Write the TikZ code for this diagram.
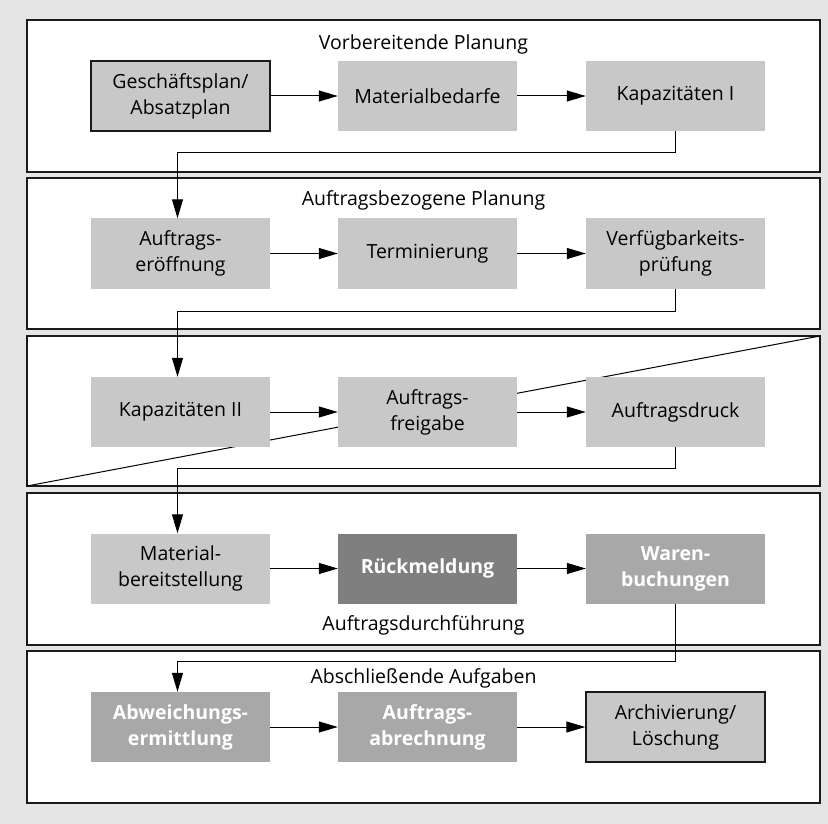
\documentclass[tikz,border=0pt]{standalone}
\usepackage{fontspec}
\setmainfont{Open Sans}
\usetikzlibrary{arrows.meta}
\definecolor{pagegray}{RGB}{228,228,228}
\definecolor{framecol}{RGB}{26,26,26}
\definecolor{boxlight}{RGB}{200,200,200}
\definecolor{boxmid}{RGB}{168,168,168}
\definecolor{boxdark}{RGB}{127,127,127}
\begin{document}
\begin{tikzpicture}[x=1pt,y=-1pt,
  panel/.style={draw=framecol,fill=white,line width=1.8pt},
  stepbox/.style={minimum width=179pt,minimum height=70pt,inner sep=0pt,
    align=center,font=\fontsize{19.5}{26}\selectfont,text=black},
  lightbox/.style={stepbox,fill=boxlight},
  framedbox/.style={stepbox,fill=boxlight,draw=framecol,line width=1.4pt},
  midbox/.style={stepbox,fill=boxmid,text=white,font=\fontsize{19.5}{26}\selectfont\bfseries},
  darkbox/.style={stepbox,fill=boxdark,text=white,font=\fontsize{19.5}{26}\selectfont\bfseries},
  paneltitle/.style={font=\fontsize{19.5}{26}\selectfont,inner sep=0pt},
  flow/.style={draw=black,line width=1pt,-{Triangle[length=19pt,width=11pt]}},
  plain/.style={draw=black,line width=1pt}]
% page background
\fill[pagegray] (0,0) rectangle (828,824);
\useasboundingbox (0,0) rectangle (828,824);

% panels
\draw[panel] (27,20) rectangle (820,172);
\draw[panel] (27,178) rectangle (820,329);
\draw[panel] (27,336) rectangle (820,486);
\draw[panel] (27,493) rectangle (820,645);
\draw[panel] (27,651) rectangle (820,803);

% diagonal across the third panel
\coordinate (p3sw) at (27,486);
\coordinate (p3ne) at (820,336);
\draw[plain] (p3sw) -- (p3ne);

% panel titles
\node[paneltitle] (t1) at (423.5,44) {Vorbereitende Planung};
\node[paneltitle] (t2) at (423.5,200) {Auftragsbezogene Planung};
\node[paneltitle] (t4) at (423.5,625) {Auftragsdurchführung};
\node[paneltitle] (t5) at (423.5,678) {Abschließende Aufgaben};

% row 1
\node[framedbox] (gp) at (180.5,96) {Geschäftsplan/\\Absatzplan};
\node[lightbox] (mb) at (427.5,96) {Materialbedarfe};
\node[lightbox] (k1) at (675.5,96) {Kapazitäten I};
% row 2
\node[lightbox] (ae) at (180.5,253.5) {Auftrags-\\eröffnung};
\node[lightbox] (te) at (427.5,253.5) {Terminierung};
\node[lightbox] (vp) at (675.5,253.5) {Verfügbarkeits-\\prüfung};
% row 3
\node[lightbox] (k2) at (180.5,412) {Kapazitäten II};
\node[lightbox] (af) at (427.5,412) {Auftrags-\\freigabe};
\node[lightbox] (ad) at (675.5,412) {Auftragsdruck};
% row 4
\node[lightbox] (mt) at (180.5,568.5) {Material-\\bereitstellung};
\node[darkbox] (rm) at (427.5,568.5) {Rückmeldung};
\node[midbox] (wb) at (675.5,568.5) {Waren-\\buchungen};
% row 5
\node[midbox] (ab) at (180.5,727) {Abweichungs-\\ermittlung};
\node[midbox] (aa) at (427.5,727) {Auftrags-\\abrechnung};
\node[framedbox] (al) at (675.5,727) {Archivierung/\\Löschung};

% flow within rows
\draw[flow] (gp) -- (mb);
\draw[flow] (mb) -- (k1);
\draw[flow] (ae) -- (te);
\draw[flow] (te) -- (vp);
\draw[flow] (k2) -- (af);
\draw[flow] (af) -- (ad);
\draw[flow] (mt) -- (rm);
\draw[flow] (rm) -- (wb);
\draw[flow] (ab) -- (aa);
\draw[flow] (aa) -- (al);

% flow between rows
\draw[flow] (k1.south) -- ++(0,21) -| ([xshift=-3pt]ae.north);
\draw[flow] (vp.south) -- ++(0,23) -| ([xshift=-3pt]k2.north);
\draw[flow] (ad.south) -- ++(0,21) -| ([xshift=-3pt]mt.north);
\draw[flow] (wb.south) -- ++(0,58) -| ([xshift=-3pt]ab.north);
\end{tikzpicture}
\end{document}
